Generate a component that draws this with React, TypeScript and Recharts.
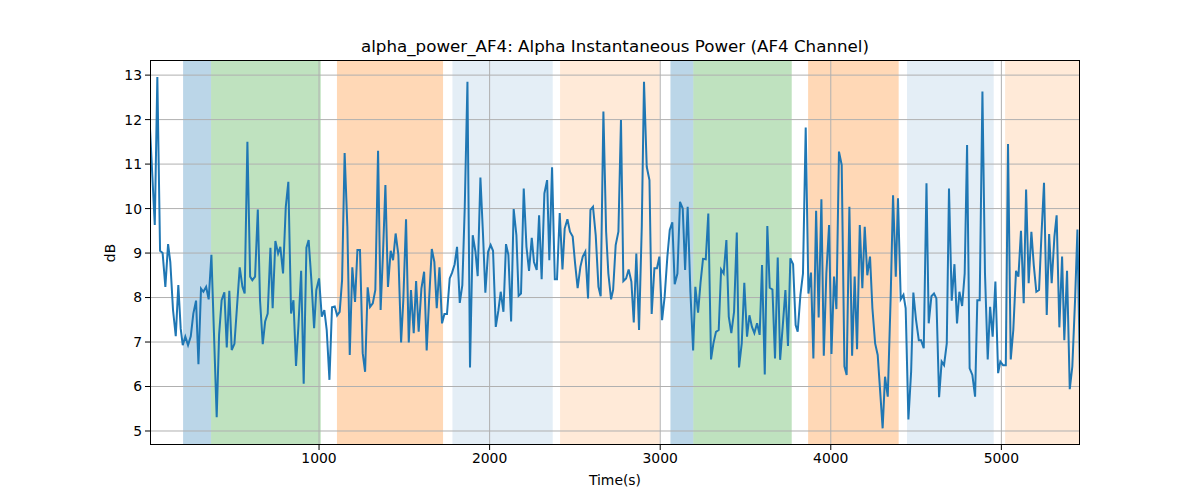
import { LineChart, Line, XAxis, YAxis, ReferenceArea, ReferenceLine } from 'recharts';

// sample times (s) and alpha power (dB)
const TIME_S = [
  9, 37, 52, 68, 83, 99, 115, 128, 144, 160, 175, 189, 201, 216, 232, 248, 263, 279, 293, 308,
  322, 338, 353, 369, 384, 400, 414, 429, 445, 459, 474, 488, 504, 519, 535, 551,
  564, 580, 596, 609, 625, 641, 654, 670, 684, 699, 715, 728, 744, 760, 773, 789, 805, 820,
  836, 850, 865, 879, 895, 910, 926, 939, 955, 971, 984, 1000, 1016, 1031, 1045, 1061, 1076, 1092,
  1106, 1121, 1135, 1150, 1166, 1180, 1195, 1211, 1225, 1240, 1256, 1270, 1285, 1299, 1315, 1330,
  1346, 1361, 1375, 1389, 1404, 1420, 1434, 1449, 1465, 1481, 1494, 1510, 1526, 1539, 1555, 1569,
  1584, 1600, 1616, 1631,
  1645, 1661, 1676, 1690, 1706, 1721, 1735, 1750, 1766, 1780, 1795, 1809, 1825, 1840, 1854, 1870,
  1885, 1901, 1917, 1930, 1946, 1961, 1975, 1991, 2006, 2020, 2036, 2051, 2065, 2081, 2096, 2110,
  2126, 2141, 2157, 2170,
  2184, 2200, 2216, 2231, 2247, 2260, 2276, 2290, 2305, 2321, 2337, 2350, 2366, 2382, 2395, 2411,
  2427, 2440, 2456, 2471, 2487, 2501, 2516, 2532, 2546, 2561, 2577, 2591, 2606, 2622, 2638, 2651,
  2667, 2683, 2696, 2712,
  2724, 2739, 2755, 2770, 2784, 2800, 2815, 2831, 2845, 2860, 2876, 2892, 2905, 2921, 2937, 2950,
  2966, 2981, 2995, 3011, 3026, 3042, 3056, 3071, 3085, 3101, 3116, 3132, 3146, 3161, 3177, 3193,
  3206, 3222, 3237,
  3251, 3267, 3282, 3298, 3312, 3327, 3343, 3357, 3372, 3388, 3402, 3417, 3433, 3449, 3462, 3478,
  3493, 3509, 3523, 3538, 3552, 3568, 3583, 3597, 3613, 3628, 3642, 3658, 3673, 3689, 3703, 3718,
  3734, 3749, 3763, 3779, 3794,
  3806, 3822, 3837, 3853, 3869, 3884, 3898, 3914, 3929, 3945, 3959, 3974, 3990, 4004, 4019, 4033,
  4048, 4064, 4080, 4093, 4109, 4125, 4140, 4154, 4170, 4185, 4199, 4214, 4230, 4244, 4260, 4275,
  4289, 4304, 4318, 4334,
  4351, 4365, 4381, 4394, 4410, 4426, 4439, 4455, 4471, 4484, 4500, 4516, 4529, 4545, 4561, 4574,
  4590, 4605, 4619, 4635, 4650, 4664, 4680, 4693, 4709, 4725, 4740, 4754, 4770, 4785, 4799, 4814,
  4830, 4846, 4859, 4873,
  4889, 4904, 4920, 4934, 4949, 4965, 4981, 4994, 5010, 5026, 5039, 5055, 5070, 5086, 5100, 5115,
  5131, 5145, 5160, 5176, 5190, 5205, 5221, 5235, 5250, 5266, 5280, 5295, 5311, 5324, 5340, 5356,
  5369, 5385, 5401, 5416, 5432, 5446, 5461,
];

const POWER_DB = [
  11.8, 9.63, 12.96, 9.05, 9.0, 8.24, 9.2, 8.8, 7.72, 7.13, 8.28, 7.3, 6.93, 7.12, 6.93, 7.13, 7.64, 7.93, 6.5, 8.2,
  8.13, 8.24, 7.96, 8.96, 7.2, 5.31, 7.16, 7.94, 8.12, 6.88, 8.15, 6.82, 6.96, 7.79, 8.68, 8.24,
  8.09, 11.5, 8.47, 8.39, 8.47, 9.98, 7.94, 6.95, 7.46, 7.64, 9.12, 7.76, 9.27, 8.99, 9.14, 8.54, 10.04, 10.6,
  7.64, 7.94, 6.46, 7.35, 8.6, 6.06, 9.12, 9.29, 8.39, 7.31, 8.17, 8.43, 7.57, 7.72, 7.27, 6.15, 7.78, 7.8,
  7.6, 7.68, 8.39, 11.25, 9.59, 6.71, 8.68, 7.9, 9.07, 9.07, 6.75, 6.33, 8.23, 7.79, 7.87, 8.17,
  11.3, 7.72, 9.0, 10.53, 8.24, 9.05, 8.84, 9.44, 8.96, 6.99, 7.94, 9.76, 6.99, 8.17, 7.2, 8.37,
  7.23, 8.2, 8.58, 6.81,
  7.94, 9.09, 8.8, 7.76, 8.68, 7.42, 7.63, 7.63, 8.43, 8.56, 8.75, 9.14, 7.88, 8.28, 10.0, 12.85,
  6.43, 9.4, 9.03, 8.48, 10.7, 9.44, 8.11, 9.03, 9.18, 9.05, 7.34, 7.7, 8.13, 7.68, 9.2, 8.96,
  7.46, 9.99, 9.4, 8.04,
  8.09, 10.45, 9.14, 8.6, 9.34, 8.8, 8.62, 9.85, 8.41, 10.34, 10.64, 8.84, 10.93, 8.41, 8.41, 9.9,
  8.63, 9.55, 9.76, 9.48, 9.37, 8.77, 8.21, 8.69, 8.92, 9.03, 7.98, 9.97, 10.04, 9.4, 8.24, 8.03,
  12.18, 9.48, 8.54, 7.96,
  8.17, 9.18, 9.48, 11.99, 8.37, 8.43, 8.63, 8.36, 7.44, 8.99, 7.27, 9.59, 12.85, 10.94, 10.64, 7.63,
  8.66, 8.66, 8.92, 7.49, 8.02, 8.92, 9.52, 9.69, 8.3, 8.54, 10.15, 10.0, 8.62, 10.04, 8.13, 6.81,
  8.24, 7.66, 8.36,
  8.87, 8.86, 9.89, 6.61, 6.97, 7.23, 7.27, 8.63, 8.54, 9.29, 7.57, 7.2, 7.68, 9.46, 6.43, 6.97,
  8.33, 7.12, 7.6, 7.34, 7.2, 7.42, 7.16, 8.73, 6.27, 9.61, 8.22, 8.18, 6.63, 8.9, 6.6, 7.34,
  8.17, 6.91, 8.88, 8.75, 7.38,
  7.23, 8.06, 8.54, 11.82, 8.09, 8.56, 6.63, 9.95, 7.55, 10.21, 6.69, 8.54, 9.63, 6.73, 8.47, 7.74,
  11.28, 10.98, 6.45, 6.26, 10.04, 6.69, 8.47, 6.84, 9.63, 8.21, 9.59, 8.5, 8.92, 7.76, 6.97, 6.71,
  5.92, 5.06, 6.22, 5.77,
  8.0, 10.3, 8.47, 10.23, 7.96, 8.06, 7.76, 5.26, 6.33, 8.11, 7.49, 7.04, 7.04, 6.86, 10.57, 7.42,
  8.03, 8.09, 7.98, 5.76, 6.56, 6.48, 6.97, 10.45, 7.93, 8.75, 7.42, 8.13, 7.81, 8.54, 11.43, 6.41,
  6.26, 5.77, 7.94, 7.94,
  12.63, 8.54, 6.61, 7.79, 7.12, 8.36, 6.3, 6.56, 6.48, 6.48, 11.45, 6.61, 7.27, 8.6, 8.47, 9.5,
  7.87, 10.43, 8.32, 9.48, 8.73, 8.13, 8.17, 9.4, 10.58, 7.61, 9.43, 8.32, 9.37, 9.85, 7.33, 8.92,
  7.04, 8.6, 5.94, 6.45, 7.94, 9.53, 6.22,
];

// condition segments: [start, end, kind]
const SEGMENTS: [number, number, string][] = [
  [203, 367, 'blue'],
  [367, 1010, 'green'],
  [1105, 1727, 'orange'],
  [1782, 2370, 'paleBlue'],
  [2413, 2997, 'paleOrange'],
  [3060, 3194, 'blue'],
  [3194, 3771, 'green'],
  [3867, 4398, 'orange'],
  [4447, 4955, 'paleBlue'],
  [5022, 5461, 'paleOrange'],
];

const X_TICKS = [1000, 2000, 3000, 4000, 5000];
const Y_TICKS = [5, 6, 7, 8, 9, 10, 11, 12, 13];

const SEG_STYLE: Record<string, { fill: string; opacity: number }> = {
  blue: { fill: '#1f77b4', opacity: 0.3 },
  green: { fill: '#2ca02c', opacity: 0.3 },
  orange: { fill: '#ff7f0e', opacity: 0.3 },
  paleBlue: { fill: '#1f77b4', opacity: 0.12 },
  paleOrange: { fill: '#ff7f0e', opacity: 0.16 },
};

const data = TIME_S.map((t, i) => ({ t, db: POWER_DB[i] }));

const FONT = '"DejaVu Sans", sans-serif';
const tickStyle = { fill: '#000', fontSize: 13.9, fontFamily: FONT };

export default function App() {
  return (
    <div style={{ position: 'absolute', left: 0, top: 0, width: 1200, height: 500, background: '#fff', fontFamily: FONT }}>
      <LineChart width={1200} height={500} data={data} margin={{ top: 60, right: 120, bottom: 25, left: 90 }}>
        <XAxis
          dataKey="t"
          type="number"
          domain={[9, 5461]}
          allowDataOverflow
          ticks={X_TICKS}
          height={30}
          axisLine={false}
          tickLine={{ stroke: '#000', strokeWidth: 1 }}
          tickSize={5}
          tickMargin={3}
          tick={tickStyle}
        />
        <YAxis
          type="number"
          domain={[4.685, 13.34]}
          allowDataOverflow
          ticks={Y_TICKS}
          width={60}
          axisLine={false}
          tickLine={{ stroke: '#000', strokeWidth: 1 }}
          tickSize={5}
          tickMargin={3}
          tick={tickStyle}
        />
        {SEGMENTS.map(([x1, x2, kind], i) => (
          <ReferenceArea
            key={`seg-${i}`}
            x1={x1}
            x2={x2}
            fill={SEG_STYLE[kind].fill}
            fillOpacity={SEG_STYLE[kind].opacity}
            stroke="none"
            ifOverflow="hidden"
          />
        ))}
        {X_TICKS.map((x) => (
          <ReferenceLine key={`gx-${x}`} x={x} stroke="#b0b0b0" strokeWidth={1} />
        ))}
        {Y_TICKS.map((y) => (
          <ReferenceLine key={`gy-${y}`} y={y} stroke="#b0b0b0" strokeWidth={1} />
        ))}
        <Line
          type="linear"
          dataKey="db"
          stroke="#1f77b4"
          strokeWidth={2}
          dot={false}
          isAnimationActive={false}
        />
      </LineChart>
      {/* frame, title and axis labels */}
      <div style={{ position: 'absolute', left: 150, top: 60, width: 930, height: 385, border: '1px solid #000', boxSizing: 'border-box', pointerEvents: 'none' }} />
      <div style={{ position: 'absolute', left: 150, top: 37, width: 930, textAlign: 'center', fontSize: 16.7, lineHeight: '19px', color: '#000' }}>
        alpha_power_AF4: Alpha Instantaneous Power (AF4 Channel)
      </div>
      <div style={{ position: 'absolute', left: 150, top: 472, width: 930, textAlign: 'center', fontSize: 13.9, lineHeight: '16px', color: '#000' }}>
        Time(s)
      </div>
      <div style={{ position: 'absolute', left: 70, top: 245, width: 80, textAlign: 'center', fontSize: 13.9, lineHeight: '16px', color: '#000', transform: 'rotate(-90deg)', transformOrigin: '40px 8px' }}>
        dB
      </div>
    </div>
  );
}
